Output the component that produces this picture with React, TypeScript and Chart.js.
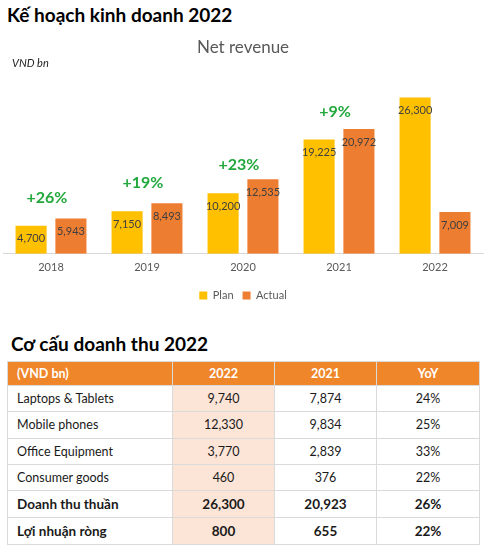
import React, { useEffect, useRef } from "react";
import { Chart, registerables } from "chart.js";

Chart.register(...registerables);

const years = ["2018", "2019", "2020", "2021", "2022"];
const plan = [4700, 7150, 10200, 19225, 26300];
const actual = [5943, 8493, 12535, 20972, 7009];
const growth = ["+26%", "+19%", "+23%", "+9%", ""];

const tableHeader = ["(VND bn)", "2022", "2021", "YoY"];
const rowLabels = [
  "Laptops & Tablets",
  "Mobile phones",
  "Office Equipment",
  "Consumer goods",
  "Doanh thu thuần",
  "Lợi nhuận ròng",
];
const col2022 = ["9,740", "12,330", "3,770", "460", "26,300", "800"];
const col2021 = ["7,874", "9,834", "2,839", "376", "20,923", "655"];
const colYoY = ["24%", "25%", "33%", "22%", "26%", "22%"];
const boldRows = [false, false, false, false, true, true];

const FONT = "Lato, 'Open Sans', sans-serif";

const labelPlugin = {
  id: "barLabels",
  afterDatasetsDraw(chart: any) {
    const ctx = chart.ctx;
    ctx.save();
    ctx.textAlign = "center";
    ctx.textBaseline = "middle";
    ctx.font = `11px ${FONT}`;
    ctx.fillStyle = "#404040";
    chart.data.datasets.forEach((ds: any, i: number) => {
      const meta = chart.getDatasetMeta(i);
      meta.data.forEach((bar: any, j: number) => {
        const v = ds.data[j] as number;
        ctx.fillText(v.toLocaleString("en-US"), bar.x, bar.y + 13);
      });
    });
    const m0 = chart.getDatasetMeta(0);
    const m1 = chart.getDatasetMeta(1);
    ctx.font = `bold 16px ${FONT}`;
    ctx.fillStyle = "#22a83c";
    growth.forEach((g, j) => {
      if (!g) return;
      const b0 = m0.data[j];
      const b1 = m1.data[j];
      const x = (b0.x + b1.x) / 2 - 4;
      ctx.fillText(g, x, b0.y - 28);
    });
    ctx.restore();
  },
};

function NetRevenueChart() {
  const ref = useRef<HTMLCanvasElement | null>(null);
  useEffect(() => {
    if (!ref.current) return;
    const chart = new Chart(ref.current, {
      type: "bar",
      data: {
        labels: years,
        datasets: [
          { label: "Plan", data: plan, backgroundColor: "#FFC000" },
          { label: "Actual", data: actual, backgroundColor: "#ED7D31" },
        ],
      },
      options: {
        responsive: false,
        animation: false,
        devicePixelRatio: 1,
        datasets: { bar: { categoryPercentage: 0.83, barPercentage: 0.78 } },
        layout: { padding: { left: 3, right: 4, top: 0, bottom: 0 } },
        plugins: {
          title: {
            display: true,
            text: "Net revenue",
            color: "#595959",
            font: { family: FONT, size: 17, weight: "normal" },
            padding: { top: 7, bottom: 18 },
          },
          legend: {
            position: "bottom",
            labels: {
              boxWidth: 8,
              boxHeight: 8,
              color: "#595959",
              font: { family: FONT, size: 11 },
              padding: 9,
            },
          },
          tooltip: { enabled: false },
        },
        scales: {
          x: {
            grid: { display: false, drawTicks: false },
            border: { display: true, color: "#d9d9d9", width: 1 },
            ticks: { color: "#595959", font: { family: FONT, size: 11 }, padding: 7 },
          },
          y: { display: false, min: 0, max: 30000 },
        },
      } as any,
      plugins: [labelPlugin],
    });
    return () => chart.destroy();
  }, []);
  return (
    <canvas
      ref={ref}
      width={487}
      height={281}
      style={{ position: "absolute", left: 0, top: 30, width: 487, height: 281 }}
    />
  );
}

export default function App() {
  const border = "1.5px solid #dadada";
  const colW = [165, 102, 102, 103];
  return (
    <div
      style={{
        position: "fixed",
        left: 0,
        top: 0,
        width: 495,
        height: 552,
        background: "#ffffff",
        fontFamily: FONT,
        overflow: "hidden",
      }}
    >
      <div
        style={{
          position: "absolute",
          left: 7,
          top: 5,
          fontSize: 19,
          lineHeight: "19px",
          fontWeight: 700,
          color: "#000",
          whiteSpace: "nowrap",
        }}
      >
        Kế hoạch kinh doanh 2022
      </div>
      <NetRevenueChart />
      <div
        style={{
          position: "absolute",
          left: 12,
          top: 56,
          fontSize: 11,
          fontStyle: "italic",
          color: "#222",
        }}
      >
        VND bn
      </div>
      <div
        style={{
          position: "absolute",
          left: 11,
          top: 334,
          fontSize: 19,
          lineHeight: "19px",
          fontWeight: 700,
          color: "#000",
          whiteSpace: "nowrap",
        }}
      >
        Cơ cấu doanh thu 2022
      </div>
      <table
        style={{
          position: "absolute",
          left: 7,
          top: 361,
          width: 472,
          borderCollapse: "collapse",
          tableLayout: "fixed",
          fontSize: 12.5,
          color: "#1a1a1a",
        }}
      >
        <colgroup>
          {colW.map((w, i) => (
            <col key={i} style={{ width: w }} />
          ))}
        </colgroup>
        <thead>
          <tr style={{ height: 24 }}>
            {tableHeader.map((h, i) => (
              <th
                key={i}
                style={{
                  background: "#F0862A",
                  color: "#fff",
                  fontWeight: 700,
                  fontSize: 12.5,
                  textAlign: i === 0 ? "left" : "center",
                  border,
                  padding: i === 0 ? "0 0 0 9px" : 0,
                }}
              >
                {h}
              </th>
            ))}
          </tr>
        </thead>
        <tbody>
          {rowLabels.map((r, i) => {
            const b = boldRows[i];
            const fs = b ? 13.5 : 12.5;
            const fw = b ? 700 : 400;
            return (
              <tr key={i} style={{ height: i >= 4 ? 27 : 26.3 }}>
                <td style={{ border, padding: "0 0 0 9px", fontSize: fs, fontWeight: fw }}>{r}</td>
                <td style={{ border, textAlign: "center", background: "#FCE4D6", fontSize: fs, fontWeight: fw, padding: 0 }}>
                  {col2022[i]}
                </td>
                <td style={{ border, textAlign: "center", fontSize: fs, fontWeight: fw, padding: 0 }}>{col2021[i]}</td>
                <td style={{ border, textAlign: "center", fontSize: fs, fontWeight: fw, padding: 0 }}>{colYoY[i]}</td>
              </tr>
            );
          })}
        </tbody>
      </table>
    </div>
  );
}
